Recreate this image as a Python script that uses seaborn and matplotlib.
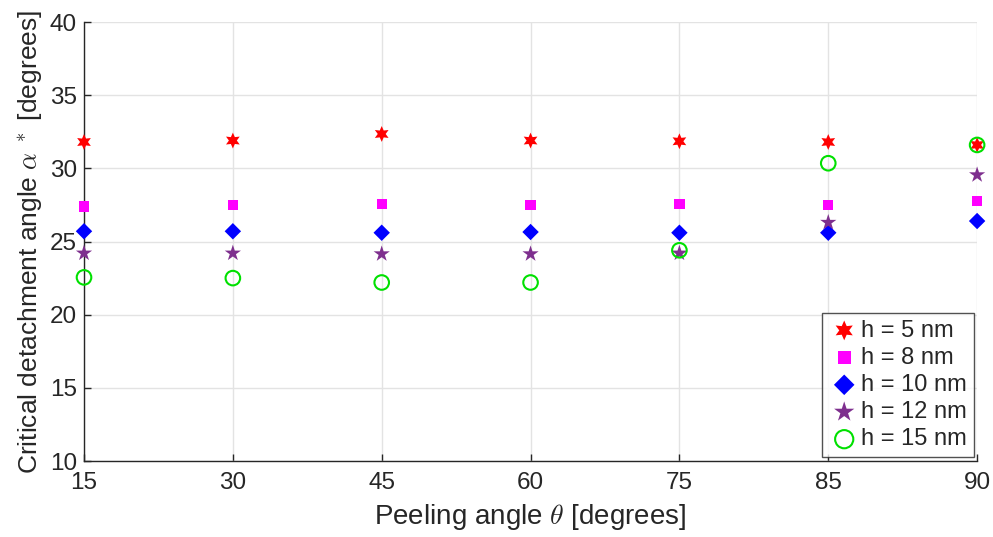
import matplotlib
matplotlib.use("Agg")
import matplotlib.pyplot as plt
import seaborn as sns
import pandas as pd

# Peeling angles (evenly spaced categories on the x axis)
peel_angles = ["15", "30", "45", "60", "75", "85", "90"]

# Critical detachment angle alpha* [degrees] for each film thickness
alpha_h5 = [31.8, 31.9, 32.35, 31.9, 31.85, 31.8, 31.6]
alpha_h8 = [27.4, 27.5, 27.55, 27.5, 27.55, 27.5, 27.75]
alpha_h10 = [25.7, 25.7, 25.6, 25.65, 25.6, 25.6, 26.4]
alpha_h12 = [24.2, 24.2, 24.15, 24.15, 24.2, 26.3, 29.55]
alpha_h15 = [22.55, 22.5, 22.2, 22.2, 24.4, 30.35, 31.6]

labels = ["h = 5 nm", "h = 8 nm", "h = 10 nm", "h = 12 nm", "h = 15 nm"]
series = [alpha_h5, alpha_h8, alpha_h10, alpha_h12, alpha_h15]

sns.set_style("white")
plt.rcParams["font.family"] = ["Liberation Sans", "DejaVu Sans"]
plt.rcParams["mathtext.fontset"] = "cm"

fig, ax = plt.subplots(figsize=(9.93, 5.37), dpi=100)
fig.subplots_adjust(left=0.0846, right=0.984, top=0.959, bottom=0.1415)

styles = [
    dict(marker=(6, 1, 0), color="#FF0000", s=130),
    dict(marker="s", color="#FF00FF", s=55),
    dict(marker="D", color="#0000FF", s=70),
    dict(marker="*", color="#7E2F8E", s=150),
    dict(marker="o", facecolors="none", edgecolor="#00E000", s=110, linewidth=1.5),
]

for lab, vals, st in zip(labels, series, styles):
    df = pd.DataFrame({"angle": peel_angles, "alpha": vals})
    kw = dict(st)
    if "color" in kw:
        kw["edgecolor"] = "none"
    sns.scatterplot(data=df, x="angle", y="alpha", ax=ax, label=lab,
                    clip_on=False, zorder=3, **kw)

ax.set_xlim(0, len(peel_angles) - 1)
ax.set_ylim(10, 40)
ax.set_yticks(range(10, 41, 5))

ax.grid(True, color="#E3E3E3", linewidth=1)
ax.set_axisbelow(True)
for side in ["top", "right"]:
    ax.spines[side].set_visible(False)
for side in ["left", "bottom"]:
    ax.spines[side].set_color("#262626")
    ax.spines[side].set_linewidth(1)

ax.tick_params(axis="both", direction="in", length=5, width=1, colors="#262626",
               labelsize=17.5, labelcolor="#262626", bottom=True, left=True, pad=5)
ax.tick_params(axis="x", pad=8)

ax.set_xlabel(r"Peeling angle $\theta$ [degrees]", fontsize=20, color="#262626", labelpad=6)
ax.set_ylabel(r"Critical detachment angle $\alpha^{\ *}$ [degrees]", fontsize=19,
              color="#262626", labelpad=4)

leg = ax.legend(loc="lower right", fontsize=17, frameon=True, fancybox=False,
                borderaxespad=0.15, handletextpad=0.05, labelspacing=0.22,
                handlelength=1.3, borderpad=0.3, markerscale=1.25)
leg.get_frame().set_edgecolor("#262626")
leg.get_frame().set_linewidth(1)

fig.savefig("out.png", dpi=100, facecolor="white")
